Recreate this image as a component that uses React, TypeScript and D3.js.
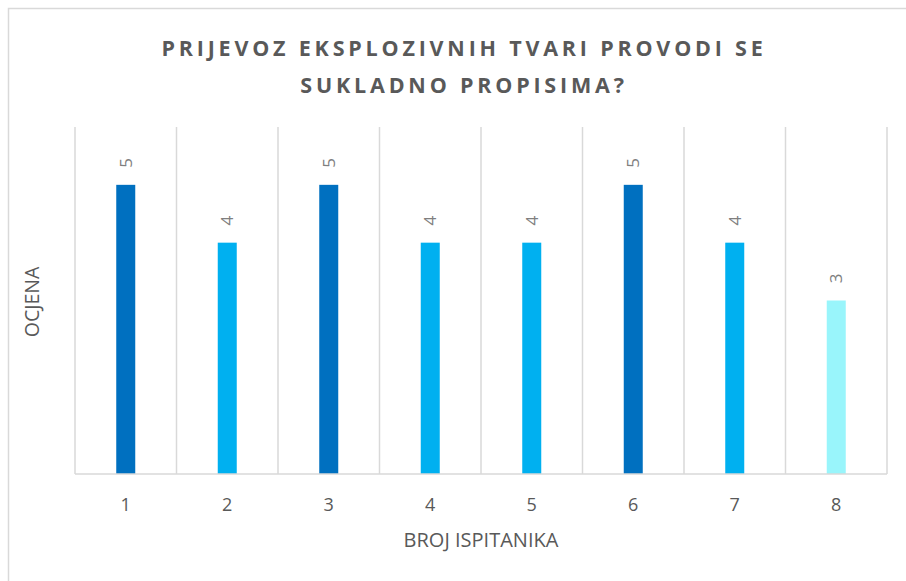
import React, { useEffect, useRef } from "react";
import * as d3 from "d3";

// chart values
const respondents = ["1", "2", "3", "4", "5", "6", "7", "8"];
const scores = [5, 4, 5, 4, 4, 5, 4, 3];
const titleLines = ["PRIJEVOZ EKSPLOZIVNIH TVARI PROVODI SE", "SUKLADNO PROPISIMA?"];
const xTitle = "BROJ ISPITANIKA";
const yTitle = "OCJENA";

const W = 906;
const H = 581;
const FONT = "'Open Sans', 'Liberation Sans', sans-serif";

// colour per score, like the original spreadsheet
function barColor(v: number) {
  if (v >= 5) return "#0070C0";
  if (v >= 4) return "#00B0F0";
  return "#99F5FB";
}

export default function App() {
  const ref = useRef<SVGSVGElement>(null);

  useEffect(() => {
    const svg = d3.select(ref.current);
    svg.selectAll("*").remove();

    const margin = { top: 127, right: 19, bottom: 107, left: 75 };
    const width = W - margin.left - margin.right;
    const height = H - margin.top - margin.bottom;

    // outer chart border (runs off the right and bottom)
    svg.append("rect")
      .attr("x", 8.5).attr("y", 8.5)
      .attr("width", W + 20).attr("height", H + 20)
      .attr("fill", "#fff")
      .attr("stroke", "#d9d9d9").attr("stroke-width", 1.5);

    const g = svg.append("g")
      .attr("transform", "translate(" + margin.left + "," + margin.top + ")");

    const x = d3.scaleBand().domain(respondents).range([0, width]);
    const y = d3.scaleLinear().domain([0, 6]).range([height, 0]);

    // vertical gridlines at category boundaries
    const bounds = respondents.map((d) => x(d)!).concat([width]);
    g.selectAll("line.grid")
      .data(bounds)
      .enter()
      .append("line")
      .attr("x1", (d) => d).attr("x2", (d) => d)
      .attr("y1", 0).attr("y2", height)
      .attr("stroke", "#d9d9d9").attr("stroke-width", 1.5);

    // bars
    const barW = 19;
    g.selectAll("rect.bar")
      .data(scores)
      .enter()
      .append("rect")
      .attr("x", (d, i) => x(respondents[i])! + x.bandwidth() / 2 - barW / 2)
      .attr("y", (d) => y(d))
      .attr("width", barW)
      .attr("height", (d) => height - y(d))
      .attr("fill", (d) => barColor(d));

    // x axis line
    g.append("line")
      .attr("x1", 0).attr("x2", width)
      .attr("y1", height).attr("y2", height)
      .attr("stroke", "#d9d9d9").attr("stroke-width", 1.5);

    // rotated data labels
    g.selectAll("text.lbl")
      .data(scores)
      .enter()
      .append("text")
      .attr("transform", (d, i) =>
        "translate(" + (x(respondents[i])! + x.bandwidth() / 2 + 6) + "," + (y(d) - 22) + ") rotate(-90)")
      .attr("text-anchor", "middle")
      .attr("font-family", FONT)
      .attr("font-size", 17)
      .attr("fill", "#7f7f7f")
      .text((d) => d);

    // tick labels
    g.selectAll("text.tick")
      .data(respondents)
      .enter()
      .append("text")
      .attr("x", (d) => x(d)! + x.bandwidth() / 2)
      .attr("y", height + 37)
      .attr("text-anchor", "middle")
      .attr("font-family", FONT)
      .attr("font-size", 18)
      .attr("fill", "#595959")
      .text((d) => d);

    // axis titles
    g.append("text")
      .attr("x", width / 2)
      .attr("y", height + 73)
      .attr("text-anchor", "middle")
      .attr("font-family", FONT)
      .attr("font-size", 20)
      .attr("fill", "#595959")
      .text(xTitle);

    svg.append("text")
      .attr("transform", "translate(39,302) rotate(-90)")
      .attr("text-anchor", "middle")
      .attr("font-family", FONT)
      .attr("font-size", 19.5)
      .attr("fill", "#595959")
      .text(yTitle);

    // title
    svg.selectAll("text.title")
      .data(titleLines)
      .enter()
      .append("text")
      .attr("x", 464)
      .attr("y", (d, i) => 56 + i * 37)
      .attr("text-anchor", "middle")
      .attr("font-family", FONT)
      .attr("font-size", 21.5)
      .attr("font-weight", "bold")
      .attr("letter-spacing", 3.8)
      .attr("fill", "#595959")
      .text((d) => d);
  }, []);

  return (
    <svg
      ref={ref}
      width={W}
      height={H}
      style={{ position: "fixed", left: 0, top: 0, display: "block" }}
    />
  );
}
